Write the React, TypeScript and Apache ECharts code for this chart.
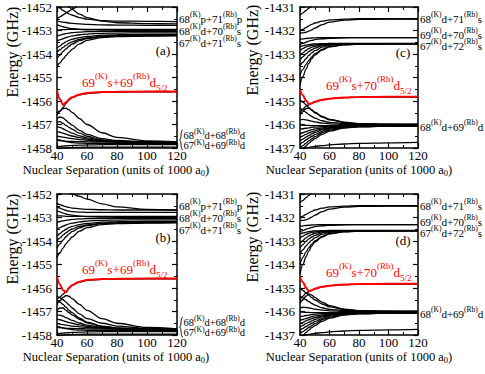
import React, { useEffect, useRef } from 'react';
import * as echarts from 'echarts';

const FONT = 'Liberation Serif';

const X = [40, 42, 44, 46, 48, 50, 55, 60, 70, 80, 100, 120];
const xRange = [40, 120];
const yRangeAB = [-1458, -1452];
const yRangeCD = [-1437, -1431];

// Panel (a)
const panelABlack: number[][] = [
  [-1452.5, -1452.42, -1452.34, -1452.26, -1452.18, -1452.1, -1451.9, -1451.7, -1451.3, -1450.9, -1450.2, -1449.5],
  [-1451.95, -1452.05, -1452.14, -1452.22, -1452.29, -1452.35, -1452.45, -1452.52, -1452.58, -1452.6, -1452.61, -1452.62],
  [-1451.5, -1451.65, -1451.78, -1451.9, -1452.0, -1452.1, -1452.3, -1452.45, -1452.6, -1452.67, -1452.71, -1452.72],
  [-1452.6, -1452.62, -1452.64, -1452.66, -1452.68, -1452.7, -1452.72, -1452.74, -1452.76, -1452.77, -1452.78, -1452.78],
  [-1452.98, -1452.97, -1452.96, -1452.96, -1452.95, -1452.95, -1452.95, -1452.95, -1452.95, -1452.95, -1452.95, -1452.95],
  [-1452.75, -1452.8, -1452.84, -1452.87, -1452.9, -1452.92, -1452.95, -1452.97, -1452.98, -1452.99, -1453.0, -1453.0],
  [-1453.25, -1453.2, -1453.16, -1453.13, -1453.11, -1453.09, -1453.07, -1453.05, -1453.04, -1453.04, -1453.04, -1453.04],
  [-1453.45, -1453.4, -1453.35, -1453.3, -1453.26, -1453.23, -1453.18, -1453.15, -1453.12, -1453.11, -1453.1, -1453.1],
  [-1453.75, -1453.65, -1453.56, -1453.48, -1453.42, -1453.37, -1453.3, -1453.25, -1453.2, -1453.18, -1453.17, -1453.17],
  [-1453.92, -1453.82, -1453.72, -1453.63, -1453.55, -1453.48, -1453.38, -1453.31, -1453.25, -1453.22, -1453.21, -1453.2],
  [-1454.2, -1454.05, -1453.9, -1453.78, -1453.67, -1453.58, -1453.43, -1453.34, -1453.26, -1453.23, -1453.22, -1453.21],
  [-1454.55, -1454.38, -1454.22, -1454.07, -1453.93, -1453.8, -1453.57, -1453.42, -1453.3, -1453.26, -1453.24, -1453.23],
  [-1456.5, -1456.42, -1456.32, -1456.3, -1456.38, -1456.48, -1456.75, -1457.0, -1457.35, -1457.55, -1457.7, -1457.74],
  [-1456.75, -1456.68, -1456.72, -1456.82, -1456.93, -1457.03, -1457.25, -1457.42, -1457.6, -1457.68, -1457.74, -1457.76],
  [-1456.9, -1456.88, -1456.95, -1457.04, -1457.12, -1457.2, -1457.37, -1457.5, -1457.65, -1457.71, -1457.75, -1457.77],
  [-1457.1, -1457.12, -1457.18, -1457.25, -1457.31, -1457.37, -1457.48, -1457.57, -1457.68, -1457.73, -1457.76, -1457.78],
  [-1457.3, -1457.33, -1457.37, -1457.41, -1457.45, -1457.49, -1457.56, -1457.62, -1457.7, -1457.74, -1457.77, -1457.78],
  [-1457.5, -1457.52, -1457.54, -1457.56, -1457.58, -1457.6, -1457.64, -1457.67, -1457.72, -1457.75, -1457.77, -1457.78],
  [-1457.68, -1457.69, -1457.7, -1457.71, -1457.72, -1457.72, -1457.73, -1457.74, -1457.75, -1457.75, -1457.75, -1457.75],
  [-1457.62, -1457.66, -1457.7, -1457.73, -1457.75, -1457.77, -1457.79, -1457.8, -1457.81, -1457.81, -1457.81, -1457.81],
  [-1457.95, -1457.93, -1457.92, -1457.91, -1457.9, -1457.89, -1457.88, -1457.87, -1457.86, -1457.86, -1457.86, -1457.86],
  [-1458.1, -1458.05, -1458.02, -1458.0, -1457.99, -1457.98, -1457.97, -1457.96, -1457.96, -1457.96, -1457.96, -1457.96],
  [-1456.6, -1456.45, -1456.28, -1456.1, -1455.96, -1455.86, -1455.74, -1455.68, -1455.63, -1455.62, -1455.61, -1455.61],
];
const panelARed = [-1455.55, -1455.92, -1456.17, -1456.05, -1455.93, -1455.84, -1455.72, -1455.66, -1455.62, -1455.61, -1455.6, -1455.6];

// Panel (b)
const panelBBlack: number[][] = [
  [-1452.1, -1451.95, -1451.8, -1451.65, -1451.5, -1451.35, -1451.0, -1450.7, -1450.1, -1449.5, -1448.5, -1447.5],
  [-1452.4, -1452.45, -1452.5, -1452.54, -1452.57, -1452.6, -1452.63, -1452.65, -1452.67, -1452.68, -1452.68, -1452.68],
  [-1451.55, -1451.65, -1451.75, -1451.85, -1451.93, -1452.0, -1452.1, -1452.22, -1452.42, -1452.55, -1452.65, -1452.68],
  [-1452.55, -1452.6, -1452.65, -1452.7, -1452.73, -1452.75, -1452.77, -1452.78, -1452.78, -1452.78, -1452.78, -1452.78],
  [-1452.92, -1452.93, -1452.94, -1452.95, -1452.95, -1452.95, -1452.95, -1452.95, -1452.95, -1452.95, -1452.95, -1452.95],
  [-1452.7, -1452.76, -1452.81, -1452.85, -1452.88, -1452.9, -1452.94, -1452.96, -1452.98, -1452.99, -1453.0, -1453.0],
  [-1453.2, -1453.17, -1453.14, -1453.12, -1453.1, -1453.08, -1453.06, -1453.05, -1453.04, -1453.04, -1453.04, -1453.04],
  [-1453.5, -1453.43, -1453.37, -1453.32, -1453.27, -1453.24, -1453.19, -1453.15, -1453.12, -1453.11, -1453.1, -1453.1],
  [-1453.8, -1453.68, -1453.58, -1453.5, -1453.43, -1453.38, -1453.3, -1453.25, -1453.2, -1453.18, -1453.17, -1453.17],
  [-1454.0, -1453.87, -1453.75, -1453.65, -1453.56, -1453.49, -1453.38, -1453.31, -1453.25, -1453.22, -1453.21, -1453.2],
  [-1454.3, -1454.12, -1453.96, -1453.82, -1453.7, -1453.6, -1453.44, -1453.34, -1453.26, -1453.23, -1453.22, -1453.21],
  [-1454.7, -1454.5, -1454.3, -1454.12, -1453.97, -1453.83, -1453.58, -1453.43, -1453.3, -1453.26, -1453.24, -1453.23],
  [-1456.35, -1456.42, -1456.5, -1456.6, -1456.72, -1456.85, -1457.1, -1457.3, -1457.5, -1457.62, -1457.72, -1457.75],
  [-1456.7, -1456.55, -1456.4, -1456.32, -1456.35, -1456.45, -1456.7, -1456.95, -1457.3, -1457.5, -1457.68, -1457.74],
  [-1456.55, -1456.6, -1456.7, -1456.82, -1456.95, -1457.05, -1457.28, -1457.45, -1457.62, -1457.7, -1457.75, -1457.77],
  [-1456.95, -1456.85, -1456.85, -1456.95, -1457.05, -1457.14, -1457.33, -1457.48, -1457.64, -1457.71, -1457.75, -1457.77],
  [-1457.15, -1457.15, -1457.2, -1457.26, -1457.32, -1457.38, -1457.49, -1457.58, -1457.68, -1457.73, -1457.76, -1457.78],
  [-1457.32, -1457.35, -1457.39, -1457.43, -1457.47, -1457.5, -1457.57, -1457.63, -1457.7, -1457.74, -1457.77, -1457.78],
  [-1457.52, -1457.54, -1457.56, -1457.58, -1457.6, -1457.62, -1457.65, -1457.68, -1457.72, -1457.75, -1457.77, -1457.78],
  [-1457.68, -1457.69, -1457.7, -1457.71, -1457.72, -1457.72, -1457.73, -1457.74, -1457.75, -1457.75, -1457.75, -1457.75],
  [-1457.62, -1457.66, -1457.7, -1457.73, -1457.75, -1457.77, -1457.79, -1457.8, -1457.81, -1457.81, -1457.81, -1457.81],
  [-1457.95, -1457.93, -1457.92, -1457.91, -1457.9, -1457.89, -1457.88, -1457.87, -1457.86, -1457.86, -1457.86, -1457.86],
  [-1458.1, -1458.05, -1458.02, -1458.0, -1457.99, -1457.98, -1457.97, -1457.96, -1457.96, -1457.96, -1457.96, -1457.96],
  [-1456.5, -1456.38, -1456.26, -1456.15, -1456.0, -1455.88, -1455.74, -1455.67, -1455.63, -1455.62, -1455.61, -1455.61],
];
const panelBRed = [-1455.52, -1455.85, -1456.1, -1456.18, -1456.0, -1455.88, -1455.73, -1455.66, -1455.62, -1455.61, -1455.6, -1455.6];

// Panel (c)
const panelCBlack: number[][] = [
  [-1431.35, -1431.25, -1431.15, -1431.05, -1430.95, -1430.85, -1430.6, -1430.4, -1430.0, -1429.6, -1429.0, -1428.5],
  [-1432.0, -1431.95, -1431.88, -1431.8, -1431.74, -1431.68, -1431.6, -1431.55, -1431.52, -1431.5, -1431.5, -1431.5],
  [-1432.1, -1432.1, -1432.08, -1432.03, -1431.97, -1431.9, -1431.75, -1431.64, -1431.56, -1431.53, -1431.52, -1431.52],
  [-1432.38, -1432.36, -1432.34, -1432.33, -1432.32, -1432.31, -1432.3, -1432.3, -1432.3, -1432.3, -1432.3, -1432.3],
  [-1432.6, -1432.55, -1432.5, -1432.45, -1432.42, -1432.39, -1432.35, -1432.33, -1432.31, -1432.3, -1432.3, -1432.3],
  [-1432.7, -1432.65, -1432.62, -1432.6, -1432.58, -1432.57, -1432.56, -1432.55, -1432.55, -1432.55, -1432.55, -1432.55],
  [-1432.85, -1432.77, -1432.7, -1432.66, -1432.63, -1432.61, -1432.58, -1432.57, -1432.56, -1432.56, -1432.56, -1432.56],
  [-1433.05, -1432.95, -1432.85, -1432.77, -1432.71, -1432.67, -1432.61, -1432.59, -1432.57, -1432.56, -1432.56, -1432.56],
  [-1433.25, -1433.12, -1433.0, -1432.9, -1432.82, -1432.75, -1432.65, -1432.6, -1432.57, -1432.56, -1432.56, -1432.56],
  [-1433.5, -1433.35, -1433.2, -1433.06, -1432.95, -1432.86, -1432.71, -1432.63, -1432.58, -1432.57, -1432.56, -1432.56],
  [-1433.9, -1433.65, -1433.45, -1433.27, -1433.12, -1433.0, -1432.8, -1432.68, -1432.6, -1432.58, -1432.57, -1432.57],
  [-1434.3, -1433.95, -1433.65, -1433.4, -1433.2, -1433.05, -1432.83, -1432.7, -1432.61, -1432.58, -1432.57, -1432.57],
  [-1434.95, -1435.05, -1435.15, -1435.28, -1435.4, -1435.5, -1435.68, -1435.8, -1435.92, -1435.97, -1436.0, -1436.0],
  [-1435.6, -1435.45, -1435.32, -1435.3, -1435.38, -1435.47, -1435.65, -1435.78, -1435.9, -1435.96, -1435.99, -1436.0],
  [-1435.3, -1435.38, -1435.48, -1435.58, -1435.66, -1435.73, -1435.84, -1435.91, -1435.96, -1435.98, -1436.0, -1436.0],
  [-1435.8, -1435.78, -1435.8, -1435.83, -1435.86, -1435.89, -1435.94, -1435.97, -1435.99, -1436.0, -1436.0, -1436.0],
  [-1436.02, -1436.03, -1436.04, -1436.04, -1436.05, -1436.05, -1436.05, -1436.05, -1436.05, -1436.05, -1436.05, -1436.05],
  [-1436.2, -1436.18, -1436.16, -1436.14, -1436.12, -1436.11, -1436.09, -1436.07, -1436.06, -1436.05, -1436.05, -1436.05],
  [-1436.4, -1436.35, -1436.3, -1436.26, -1436.22, -1436.19, -1436.14, -1436.1, -1436.07, -1436.06, -1436.05, -1436.05],
  [-1436.55, -1436.48, -1436.42, -1436.36, -1436.31, -1436.27, -1436.19, -1436.13, -1436.08, -1436.06, -1436.05, -1436.05],
  [-1436.7, -1436.62, -1436.54, -1436.47, -1436.4, -1436.34, -1436.23, -1436.16, -1436.09, -1436.07, -1436.06, -1436.06],
  [-1436.85, -1436.75, -1436.66, -1436.58, -1436.5, -1436.43, -1436.29, -1436.2, -1436.11, -1436.08, -1436.06, -1436.06],
  [-1437.0, -1436.9, -1436.8, -1436.7, -1436.61, -1436.52, -1436.35, -1436.24, -1436.13, -1436.09, -1436.07, -1436.06],
  [-1437.2, -1437.05, -1436.92, -1436.8, -1436.7, -1436.6, -1436.42, -1436.28, -1436.15, -1436.1, -1436.07, -1436.06],
  [-1437.15, -1437.06, -1437.0, -1436.97, -1436.95, -1436.93, -1436.9, -1436.87, -1436.83, -1436.8, -1436.78, -1436.76],
  [-1435.5, -1435.35, -1435.22, -1435.16, -1435.1, -1435.04, -1434.95, -1434.9, -1434.86, -1434.84, -1434.83, -1434.83],
];
const panelCRed = [-1434.52, -1434.75, -1434.98, -1435.13, -1435.1, -1435.03, -1434.95, -1434.9, -1434.85, -1434.83, -1434.82, -1434.82];

// Panel (d)
const panelDBlack: number[][] = [
  [-1431.38, -1431.27, -1431.16, -1431.06, -1430.96, -1430.86, -1430.6, -1430.4, -1430.0, -1429.6, -1429.0, -1428.5],
  [-1432.0, -1431.94, -1431.87, -1431.8, -1431.74, -1431.68, -1431.6, -1431.55, -1431.52, -1431.5, -1431.5, -1431.5],
  [-1432.12, -1432.12, -1432.1, -1432.05, -1431.98, -1431.9, -1431.75, -1431.64, -1431.56, -1431.53, -1431.52, -1431.52],
  [-1432.38, -1432.36, -1432.34, -1432.33, -1432.32, -1432.31, -1432.3, -1432.3, -1432.3, -1432.3, -1432.3, -1432.3],
  [-1432.62, -1432.56, -1432.5, -1432.46, -1432.42, -1432.39, -1432.35, -1432.33, -1432.31, -1432.3, -1432.3, -1432.3],
  [-1432.7, -1432.66, -1432.63, -1432.6, -1432.58, -1432.57, -1432.56, -1432.55, -1432.55, -1432.55, -1432.55, -1432.55],
  [-1432.88, -1432.79, -1432.72, -1432.67, -1432.63, -1432.61, -1432.58, -1432.57, -1432.56, -1432.56, -1432.56, -1432.56],
  [-1433.1, -1432.98, -1432.87, -1432.78, -1432.72, -1432.67, -1432.61, -1432.59, -1432.57, -1432.56, -1432.56, -1432.56],
  [-1433.3, -1433.15, -1433.02, -1432.91, -1432.83, -1432.76, -1432.65, -1432.6, -1432.57, -1432.56, -1432.56, -1432.56],
  [-1433.55, -1433.38, -1433.22, -1433.08, -1432.96, -1432.87, -1432.71, -1432.63, -1432.58, -1432.57, -1432.56, -1432.56],
  [-1434.0, -1433.7, -1433.47, -1433.28, -1433.13, -1433.0, -1432.8, -1432.68, -1432.6, -1432.58, -1432.57, -1432.57],
  [-1434.4, -1434.0, -1433.68, -1433.42, -1433.21, -1433.05, -1432.83, -1432.7, -1432.61, -1432.58, -1432.57, -1432.57],
  [-1435.0, -1435.1, -1435.2, -1435.3, -1435.41, -1435.5, -1435.68, -1435.8, -1435.92, -1435.97, -1436.0, -1436.0],
  [-1435.65, -1435.5, -1435.35, -1435.25, -1435.3, -1435.4, -1435.6, -1435.75, -1435.9, -1435.96, -1435.99, -1436.0],
  [-1435.35, -1435.42, -1435.5, -1435.58, -1435.66, -1435.73, -1435.84, -1435.91, -1435.96, -1435.98, -1436.0, -1436.0],
  [-1435.85, -1435.82, -1435.83, -1435.85, -1435.87, -1435.9, -1435.94, -1435.97, -1435.99, -1436.0, -1436.0, -1436.0],
  [-1436.02, -1436.03, -1436.04, -1436.04, -1436.05, -1436.05, -1436.05, -1436.05, -1436.05, -1436.05, -1436.05, -1436.05],
  [-1436.22, -1436.2, -1436.17, -1436.15, -1436.13, -1436.11, -1436.09, -1436.07, -1436.06, -1436.05, -1436.05, -1436.05],
  [-1436.38, -1436.34, -1436.3, -1436.26, -1436.22, -1436.19, -1436.14, -1436.1, -1436.07, -1436.06, -1436.05, -1436.05],
  [-1436.52, -1436.46, -1436.4, -1436.35, -1436.3, -1436.26, -1436.19, -1436.13, -1436.08, -1436.06, -1436.05, -1436.05],
  [-1436.66, -1436.59, -1436.52, -1436.46, -1436.4, -1436.34, -1436.23, -1436.16, -1436.09, -1436.07, -1436.06, -1436.06],
  [-1436.8, -1436.72, -1436.64, -1436.57, -1436.5, -1436.43, -1436.29, -1436.2, -1436.11, -1436.08, -1436.06, -1436.06],
  [-1436.95, -1436.86, -1436.77, -1436.68, -1436.6, -1436.52, -1436.35, -1436.24, -1436.13, -1436.09, -1436.07, -1436.06],
  [-1437.15, -1437.02, -1436.9, -1436.79, -1436.69, -1436.6, -1436.42, -1436.28, -1436.15, -1436.1, -1436.07, -1436.06],
  [-1437.15, -1437.06, -1437.0, -1436.97, -1436.95, -1436.93, -1436.9, -1436.87, -1436.83, -1436.8, -1436.78, -1436.76],
  [-1435.5, -1435.35, -1435.22, -1435.16, -1435.1, -1435.04, -1434.95, -1434.9, -1434.86, -1434.84, -1434.83, -1434.83],
];
const panelDRed = [-1434.52, -1434.75, -1434.98, -1435.13, -1435.1, -1435.03, -1434.95, -1434.9, -1434.85, -1434.83, -1434.82, -1434.82];

const panels = [
  { black: panelABlack, red: panelARed, y: yRangeAB },
  { black: panelBBlack, red: panelBRed, y: yRangeAB },
  { black: panelCBlack, red: panelCRed, y: yRangeCD },
  { black: panelDBlack, red: panelDRed, y: yRangeCD },
];

const grids = [
  { left: 57, top: 7, width: 120, height: 141 },
  { left: 57, top: 194, width: 120, height: 141 },
  { left: 300, top: 7, width: 118, height: 141 },
  { left: 300, top: 194, width: 118, height: 141 },
];

let measureCtx: CanvasRenderingContext2D | null = null;
function measure(text: string, size: number) {
  if (!measureCtx) measureCtx = document.createElement('canvas').getContext('2d');
  if (!measureCtx) return text.length * size * 0.5;
  measureCtx.font = `${size}px "${FONT}"`;
  return measureCtx.measureText(text).width;
}

// markup: plain text with {s|sup} and {b|sub}
function label(markup: string, x: number, y: number, fs: number, color = '#000', opt: any = {}) {
  const supSize = opt.sup ?? Math.round(fs * 0.7 * 2) / 2;
  const parts: { t: string; k: string }[] = [];
  const re = /\{(s|b)\|([^}]*)\}/g;
  let last = 0;
  let m: RegExpExecArray | null;
  while ((m = re.exec(markup))) {
    if (m.index > last) parts.push({ t: markup.slice(last, m.index), k: 'n' });
    parts.push({ t: m[2], k: m[1] });
    last = m.index + m[0].length;
  }
  if (last < markup.length) parts.push({ t: markup.slice(last), k: 'n' });
  const sized = parts.map((p) => {
    const size = p.k === 'n' ? fs : supSize;
    return { ...p, size, w: measure(p.t, size) };
  });
  const total = sized.reduce((a, p) => a + p.w, 0);
  let cx = opt.align === 'center' ? x - total / 2 : x;
  const out: any[] = [];
  sized.forEach((p) => {
    const dy = p.k === 's' ? -(opt.up ?? fs * 0.4) : p.k === 'b' ? (opt.down ?? fs * 0.42) : 0;
    out.push({
      type: 'text', x: cx, y: y + dy, z: 100, silent: true,
      style: { text: p.t, fill: color, fontSize: p.size, fontFamily: FONT, align: 'left', verticalAlign: 'middle' },
    });
    cx += p.w;
  });
  return out;
}

function plain(text: string, x: number, y: number, fs: number, rot = 0) {
  return {
    type: 'text', x, y, rotation: rot, z: 100, silent: true,
    style: { text, fill: '#000', fontSize: fs, fontFamily: FONT, align: 'center', verticalAlign: 'middle' },
  };
}

function brace(x: number, yTop: number, yBot: number) {
  const ym = (yTop + yBot) / 2;
  const st = { stroke: '#000', lineWidth: 0.9, fill: 'none' };
  return [
    { type: 'bezierCurve', silent: true, z: 100, shape: { x1: x + 3, y1: yTop, cpx1: x, cpy1: yTop, cpx2: x + 2, cpy2: ym, x2: x - 0.5, y2: ym }, style: st },
    { type: 'bezierCurve', silent: true, z: 100, shape: { x1: x - 0.5, y1: ym, cpx1: x + 2, cpy1: ym, cpx2: x, cpy2: yBot, x2: x + 3, y2: yBot }, style: st },
  ];
}

function buildOption() {
  const xAxis: any[] = [];
  const yAxis: any[] = [];
  const series: any[] = [];
  const axisLine = { show: true, onZero: false, lineStyle: { color: '#000', width: 1.5 } };
  const axisTick = { show: true, inside: true, length: 5, lineStyle: { color: '#000', width: 1.2 } };
  const minorTick = { show: true, splitNumber: 2, length: 3, lineStyle: { color: '#000', width: 1 } };
  const fmt = (v: number) => String(v);
  panels.forEach((p, g) => {
    ['bottom', 'top'].forEach((pos, k) => {
      xAxis.push({
        type: 'value', gridIndex: g, position: pos, min: xRange[0], max: xRange[1], interval: 20,
        axisLine, axisTick, minorTick, splitLine: { show: false },
        axisLabel: { show: k === 0, fontSize: 13, fontFamily: FONT, color: '#000', margin: 2, lineHeight: 11, formatter: fmt },
      });
    });
    ['left', 'right'].forEach((pos, k) => {
      yAxis.push({
        type: 'value', gridIndex: g, position: pos, min: p.y[0], max: p.y[1], interval: 1,
        axisLine, axisTick, minorTick, splitLine: { show: false },
        axisLabel: { show: k === 0, fontSize: 13, fontFamily: FONT, color: '#000', margin: 5, formatter: fmt },
      });
    });
    const mk = (d: number[], color: string, width: number, z: number) => ({
      type: 'line', xAxisIndex: g * 2, yAxisIndex: g * 2,
      data: X.map((x, i) => [x, d[i]]),
      symbol: 'none', showSymbol: false, smooth: 0.35, smoothMonotone: 'x', clip: true,
      lineStyle: { color, width }, z, silent: true,
    });
    p.black.forEach((d) => series.push(mk(d, '#000', 1.3, 2)));
    series.push(mk(p.red, '#ff0000', 2, 5));
  });

  const graphic: any[] = [];
  [0, 187].forEach((dy) => {
    graphic.push(...label('68{s|(K)}p+71{s|(Rb)}p', 179, 19 + dy, 11));
    graphic.push(...label('68{s|(K)}d+70{s|(Rb)}s', 179, 31 + dy, 11));
    graphic.push(...label('67{s|(K)}d+71{s|(Rb)}s', 179, 43 + dy, 11));
    graphic.push(...brace(180, 130 + dy, 150 + dy));
    graphic.push(...label('68{s|(K)}d+68{s|(Rb)}d', 183.5, 135 + dy, 10.5, '#000', { up: 3.5 }));
    graphic.push(...label('67{s|(K)}d+69{s|(Rb)}d', 183.5, 145.5 + dy, 10.5, '#000', { up: 3.5 }));
    graphic.push(...label('69{s|(K)}s+69{s|(Rb)}d{b|5/2}', 82, 82 + dy, 13, '#ff0000', { sup: 9, up: 6, down: 6 }));
    graphic.push(plain('Energy (GHz)', 12, 52 + dy, 16, Math.PI / 2));
    graphic.push(...label('Nuclear Separation (units of 1000 a{b|0})', 116, 169.5 + dy, 12.5, '#000', { align: 'center', sup: 8.5, down: 3.5 }));

    graphic.push(...label('68{s|(K)}d+71{s|(Rb)}s', 420, 19 + dy, 11));
    graphic.push(...label('69{s|(K)}d+70{s|(Rb)}s', 420, 34.5 + dy, 11));
    graphic.push(...label('67{s|(K)}d+72{s|(Rb)}s', 420, 46 + dy, 11));
    graphic.push(...label('68{s|(K)}d+69{s|(Rb)}d', 420, 127 + dy, 11));
    graphic.push(...label('69{s|(K)}s+70{s|(Rb)}d{b|5/2}', 326, 85 + dy, 13, '#ff0000', { sup: 9, up: 6, down: 6 }));
    graphic.push(plain('Energy (GHz)', 252, 50 + dy, 16, Math.PI / 2));
    graphic.push(...label('Nuclear Separation (units of 1000 a{b|0})', 359, 169.5 + dy, 12.5, '#000', { align: 'center', sup: 8.5, down: 3.5 }));
  });
  graphic.push(plain('(a)', 163, 50, 13));
  graphic.push(plain('(b)', 163, 237, 13));
  graphic.push(plain('(c)', 403, 52, 13));
  graphic.push(plain('(d)', 403, 240, 13));

  return {
    animation: false,
    backgroundColor: '#fff',
    grid: grids,
    xAxis,
    yAxis,
    series,
    graphic,
  };
}

export default function App() {
  const ref = useRef<HTMLDivElement>(null);
  useEffect(() => {
    if (!ref.current) return;
    const chart = echarts.init(ref.current, undefined, { renderer: 'svg' });
    chart.setOption(buildOption() as any);
    return () => chart.dispose();
  }, []);
  return (
    <div
      ref={ref}
      style={{ position: 'absolute', left: 0, top: 0, width: 485, height: 374 }}
    />
  );
}
